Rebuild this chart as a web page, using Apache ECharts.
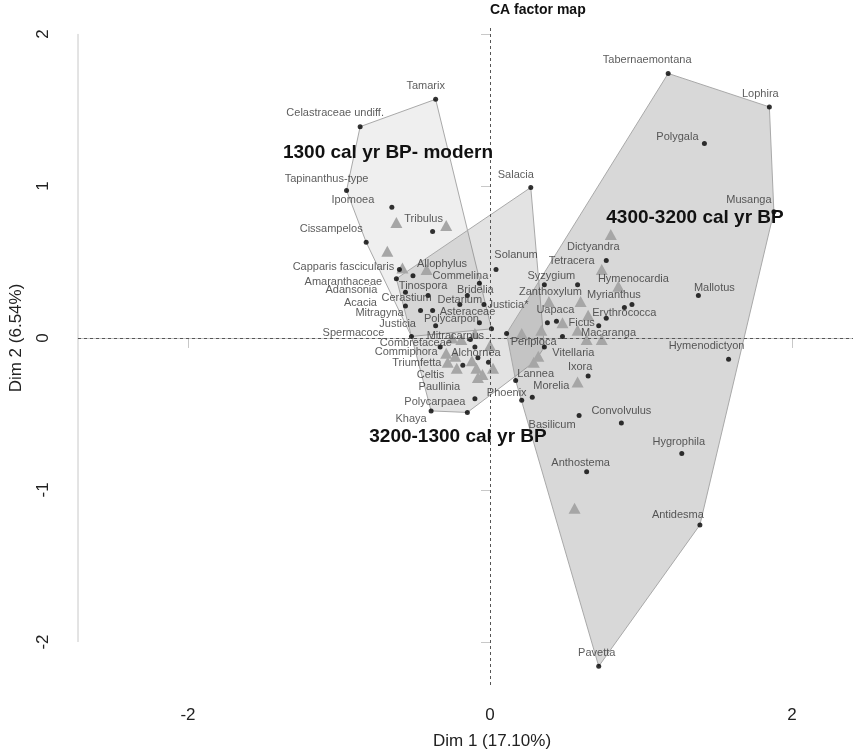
<!DOCTYPE html>
<html>
<head>
<meta charset="utf-8">
<script src="https://cdn.jsdelivr.net/npm/echarts@6/dist/echarts.min.js"></script>
<style>html,body{margin:0;padding:0;background:#fff}#c{width:853px;height:752px}</style>
</head>
<body>
<div id="c"></div>
<script>
// ---- Data ----
const speciesNames = ["Tabernaemontana","Lophira","Polygala","Musanga","Mallotus","Hymenodictyon","Hygrophila","Antidesma","Pavetta","Convolvulus","Basilicum","Anthostema","Ixora","Lannea","Morelia","Phoenix","Vitellaria","Macaranga","Periploca","Ficus","Erythrococca","Myrianthus","Hymenocardia","Uapaca","Zanthoxylum","Syzygium","Tetracera","Dictyandra","Solanum","Salacia","Justicia*","Celastraceae undiff.","Tamarix","Tapinanthus-type","Ipomoea","Tribulus","Cissampelos","Capparis fascicularis","Allophylus","Commelina","Amaranthaceae","Adansonia","Tinospora","Bridelia","Cerastium","Detarium","Acacia","Mitragyna","Asteraceae","Justicia","Polycarpon","Spermacoce","Mitracarpus","Combretaceae","Commiphora","Alchornea","Triumfetta","Celtis","Paullinia","Polycarpaea","Khaya"];
const speciesDim1 = [1.18,1.85,1.42,1.88,1.38,1.58,1.27,1.39,0.72,0.87,0.59,0.64,0.65,0.17,0.28,0.21,0.36,0.48,0.11,0.72,0.77,0.94,0.89,0.38,0.44,0.36,0.58,0.77,0.04,0.27,-0.04,-0.86,-0.36,-0.95,-0.65,-0.38,-0.82,-0.60,-0.51,-0.07,-0.62,-0.56,-0.41,-0.15,-0.38,-0.20,-0.56,-0.46,0.01,-0.36,-0.07,-0.52,-0.13,-0.10,-0.33,-0.08,-0.18,-0.01,-0.15,-0.10,-0.39];
const speciesDim2 = [1.74,1.52,1.28,0.83,0.28,-0.14,-0.76,-1.23,-2.16,-0.56,-0.51,-0.88,-0.25,-0.28,-0.39,-0.41,-0.06,0.01,0.03,0.08,0.13,0.22,0.20,0.10,0.11,0.35,0.35,0.51,0.45,0.99,0.22,1.39,1.57,0.97,0.86,0.70,0.63,0.45,0.41,0.36,0.39,0.30,0.28,0.28,0.18,0.22,0.21,0.18,0.06,0.08,0.10,0.01,-0.01,-0.06,-0.06,-0.13,-0.18,-0.16,-0.49,-0.40,-0.48];

const sampleDim1 = [-0.62,-0.29,-0.68,-0.58,-0.42, -0.25,-0.19,-0.10,0.00,-0.29,-0.23,-0.28,-0.22,-0.12,-0.09,-0.05,0.02,-0.08,0.21,0.34,0.29,0.32, 0.80,0.74,0.85,0.60,0.39,0.65,0.48,0.58,0.64,0.74,0.58,0.56];
const sampleDim2 = [0.76,0.74,0.57,0.46,0.45, 0.00,-0.01,0.03,-0.05,-0.10,-0.12,-0.16,-0.20,-0.15,-0.20,-0.24,-0.20,-0.26,0.03,0.05,-0.16,-0.12, 0.68,0.45,0.34,0.24,0.24,0.15,0.10,0.05,-0.01,-0.01,-0.29,-1.12];
const sampleGroup = [0,0,0,0,0, 1,1,1,1,1,1,1,1,1,1,1,1,1,1,1,1,1, 2,2,2,2,2,2,2,2,2,2,2,2];

const groupNames = ["1300 cal yr BP- modern","3200-1300 cal yr BP","4300-3200 cal yr BP"];
const groupSpecies = [
  ["Celastraceae undiff.","Tamarix","Tapinanthus-type","Ipomoea","Tribulus","Cissampelos","Capparis fascicularis","Spermacoce","Asteraceae"],
  ["Salacia","Solanum","Justicia*","Allophylus","Commelina","Amaranthaceae","Adansonia","Tinospora","Bridelia","Cerastium","Detarium","Acacia","Mitragyna","Justicia","Polycarpon","Spermacoce","Mitracarpus","Combretaceae","Commiphora","Alchornea","Triumfetta","Celtis","Paullinia","Polycarpaea","Khaya","Vitellaria"],
  ["Tabernaemontana","Lophira","Polygala","Musanga","Mallotus","Hymenodictyon","Hygrophila","Antidesma","Pavetta","Convolvulus","Basilicum","Anthostema","Ixora","Lannea","Morelia","Phoenix","Periploca","Ficus","Erythrococca","Myrianthus","Hymenocardia","Uapaca","Zanthoxylum","Syzygium","Tetracera","Dictyandra","Macaranga"]
];
const xTickValues = [-2, 0, 2];
const yTickValues = [-2, -1, 0, 1, 2];

// ---- Styling: label offsets in px (label centre relative to point) ----
const labelOffsets = {
  "Tabernaemontana":[-21,-13],"Lophira":[-9,-13],"Polygala":[-27,-6],"Musanga":[-25,-12],"Mallotus":[16,-7],
  "Hymenodictyon":[-22,-13],"Hygrophila":[-3,-12],"Antidesma":[-22,-10],"Pavetta":[-2,-13],"Convolvulus":[0,-12],
  "Basilicum":[-27,9],"Anthostema":[-6,-9],"Ixora":[-8,-9],"Lannea":[20,-7],"Morelia":[19,-11],"Phoenix":[-15,-7],
  "Vitellaria":[29,6],"Macaranga":[46,-3],"Periploca":[27,9],"Ficus":[-17,-3],"Erythrococca":[18,-5],"Myrianthus":[-18,-10],
  "Hymenocardia":[9,-29],"Uapaca":[8,-13],"Zanthoxylum":[-6,-29],"Syzygium":[7,-9],"Tetracera":[-6,-24],"Dictyandra":[-13,-13],
  "Solanum":[20,-15],"Salacia":[-15,-12],"Justicia*":[24,0],
  "Celastraceae undiff.":[-25,-14],"Tamarix":[-10,-13],"Tapinanthus-type":[-20,-12],"Ipomoea":[-39,-7],"Tribulus":[-9,-13],
  "Cissampelos":[-35,-13],"Capparis fascicularis":[-56,-3],"Allophylus":[29,-12],"Commelina":[-19,-7],"Amaranthaceae":[-53,3],
  "Adansonia":[-54,-2],"Tinospora":[-5,-9],"Bridelia":[8,-5],"Cerastium":[-26,-13],"Detarium":[0,-5],"Acacia":[-45,-3],
  "Mitragyna":[-41,2],"Asteraceae":[-24,-17],"Justicia":[-38,-2],"Polycarpon":[-28,-4],"Spermacoce":[-58,-3],"Mitracarpus":[-15,-4],
  "Combretaceae":[-59,-4],"Commiphora":[-34,5],"Alchornea":[-2,-5],"Triumfetta":[-46,-2],"Celtis":[-58,13],"Paullinia":[-28,-25],
  "Polycarpaea":[-40,3],"Khaya":[-20,8]
};
const groupFill = ["rgba(128,128,128,0.13)","rgba(128,128,128,0.22)","rgba(128,128,128,0.31)"];
const groupLabelPx = [[388,153],[458,437],[695,218]];

const XMIN = -2.7285, XMAX = 2.404, YMIN = -2.283, YMAX = 2.039;
const FONT = '"Liberation Sans", Arial, sans-serif';

// ---- Build hulls ----
function hull(pts){
  const p = pts.slice().sort((a,b)=>a[0]-b[0]||a[1]-b[1]);
  const cross=(o,a,b)=>(a[0]-o[0])*(b[1]-o[1])-(a[1]-o[1])*(b[0]-o[0]);
  const lower=[],upper=[];
  for(const q of p){while(lower.length>=2&&cross(lower[lower.length-2],lower[lower.length-1],q)<=0)lower.pop();lower.push(q);}
  for(let i=p.length-1;i>=0;i--){const q=p[i];while(upper.length>=2&&cross(upper[upper.length-2],upper[upper.length-1],q)<=0)upper.pop();upper.push(q);}
  upper.pop();lower.pop();return lower.concat(upper);
}
const hulls = groupNames.map((g,gi)=>{
  const pts=[];
  groupSpecies[gi].forEach(n=>{const i=speciesNames.indexOf(n); if(i>=0) pts.push([speciesDim1[i],speciesDim2[i]]);});
  sampleGroup.forEach((sg,i)=>{ if(sg===gi) pts.push([sampleDim1[i],sampleDim2[i]]); });
  return hull(pts);
});

const chart = echarts.init(document.getElementById('c'), null, {renderer:'canvas'});
const option = {
  animation:false,
  backgroundColor:'#fff',
  textStyle:{fontFamily:FONT},
  grid:{left:78,right:0,top:28,bottom:67},
  xAxis:{type:'value',min:XMIN,max:XMAX,
    axisLine:{show:true,lineStyle:{color:'#c8c8c8',width:1}},
    axisTick:{show:true,length:10,customValues:xTickValues,lineStyle:{color:'#c8c8c8'}},
    axisLabel:{customValues:xTickValues,fontSize:17,color:'#222',margin:22,fontFamily:FONT,formatter:v=>String(v)},
    splitLine:{show:false}},
  yAxis:{type:'value',min:YMIN,max:YMAX,
    axisLine:{show:false},
    axisTick:{show:true,length:9,customValues:yTickValues,lineStyle:{color:'#c8c8c8'}},
    axisLabel:{customValues:yTickValues,fontSize:17,color:'#222',margin:26,rotate:90,fontFamily:FONT,formatter:v=>String(v)},
    splitLine:{show:false}},
  series:[
    {type:'custom',silent:true,z:1,clip:false,
     data:groupNames.map(()=>[0,0]),
     renderItem:(params,api)=>({type:'polygon',
        shape:{points:hulls[params.dataIndex].map(p=>api.coord(p))},
        style:{fill:groupFill[params.dataIndex],stroke:'#a9a9a9',lineWidth:1}})
    },
    {type:'line',silent:true,z:2,clip:false,symbol:'none',
     data:[[XMIN,yTickValues[0]],[XMIN,yTickValues[yTickValues.length-1]]],
     lineStyle:{color:'#c8c8c8',width:1}},
    {type:'scatter',silent:true,z:3,symbol:'triangle',symbolSize:[12,11],
     itemStyle:{color:'#a6a6a6',opacity:1},
     data:sampleDim1.map((x,i)=>[x,sampleDim2[i]])},
    {type:'scatter',silent:true,z:4,symbol:'circle',symbolSize:5,
     itemStyle:{color:'#000'},
     data:speciesNames.map((n,i)=>({name:n,value:[speciesDim1[i],speciesDim2[i]],
        label:{offset:labelOffsets[n]||[0,-10]}})),
     label:{show:true,position:'inside',formatter:'{b}',fontSize:11,color:'#333',fontFamily:FONT,align:'center',verticalAlign:'middle'},
     markLine:{silent:true,symbol:'none',label:{show:false},animation:false,
       lineStyle:{color:'#555',type:[3,3],width:1},
       data:[{xAxis:0},{yAxis:0}]}
    }
  ],
  graphic:[
    {type:'text',left:490,top:3,style:{text:'CA factor map',font:'bold 14px '+FONT,fill:'#111',textAlign:'center'}},
    {type:'text',x:492,y:741,style:{text:'Dim 1 (17.10%)',font:'17px '+FONT,fill:'#222',textAlign:'center',textVerticalAlign:'middle'}},
    {type:'text',x:16,y:338,rotation:Math.PI/2,style:{text:'Dim 2 (6.54%)',font:'17px '+FONT,fill:'#222',textAlign:'center',textVerticalAlign:'middle'}}
  ].concat(groupNames.map((g,i)=>({type:'text',x:groupLabelPx[i][0],y:groupLabelPx[i][1],z:10,
     style:{text:g,font:'bold 19px '+FONT,fill:'#111',textAlign:'center',textVerticalAlign:'middle'}})))
};
chart.setOption(option);
</script>
</body>
</html>
